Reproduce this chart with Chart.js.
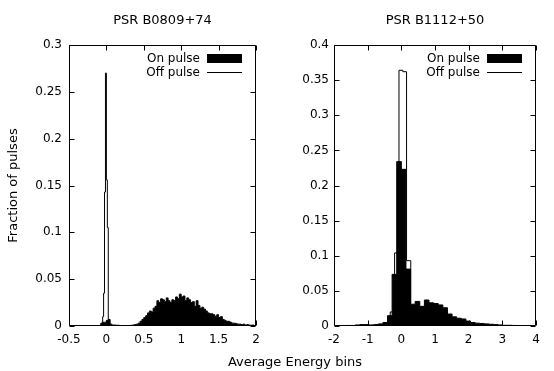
<!DOCTYPE html>
<html>
<head>
<meta charset="utf-8">
<script src="https://cdn.jsdelivr.net/npm/chart.js@4.4.0/dist/chart.umd.min.js"></script>
<style>
  html, body { margin:0; padding:0; background:#fff; }
  #wrap { position:relative; width:554px; height:371px; font-family:"DejaVu Sans", sans-serif; color:#000; }
  .panel { position:absolute; top:0; width:277px; height:371px; }
  .ttl { position:absolute; top:12px; width:200px; text-align:center; font-size:13px; line-height:16px; }
  #xTitle { position:absolute; left:0; width:590px; top:354px; text-align:center; font-size:13px; line-height:15px; }
</style>
</head>
<body>
<div id="wrap">
  <div class="panel" style="left:0"><canvas id="chartL" width="277" height="371"></canvas></div>
  <div class="panel" style="left:277px"><canvas id="chartR" width="277" height="371"></canvas></div>
  <div class="ttl" id="titleL" style="left:62.5px"></div>
  <div class="ttl" id="titleR" style="left:335px"></div>
  <div id="xTitle">Average Energy bins</div>
</div>
<script>
/* PSR B0809+74 / B1112+50 energy histograms */
const seriesNames = ['On pulse', 'Off pulse'];

// left panel: PSR B0809+74
const titleL = 'PSR B0809+74';
const xTicksL = [-0.5, 0, 0.5, 1, 1.5, 2];
const yTicksL = [0, 0.05, 0.1, 0.15, 0.2, 0.25, 0.3];
const onStartL = -0.1, onWidthL = 0.025;
const onValsL = [
  0.0005, 0.003, 0.004, 0.004, 0.006, 0.007, 0.002, 0.001, 0.001, 0.0008,
  0.0008, 0.0005, 0.0005, 0.0005, 0.0005, 0.0005,
  0.0005, 0.0008, 0.001, 0.0015, 0.002, 0.003, 0.005, 0.007, 0.009, 0.011,
  0.014, 0.016, 0.015, 0.019, 0.021, 0.027, 0.025, 0.029, 0.028, 0.026,
  0.030, 0.027, 0.025, 0.028, 0.027, 0.031, 0.029, 0.034, 0.031, 0.032,
  0.027, 0.030, 0.028, 0.025, 0.026, 0.021, 0.027, 0.022, 0.019, 0.020,
  0.018, 0.016, 0.014, 0.013, 0.013, 0.012, 0.010, 0.012, 0.009, 0.010,
  0.007, 0.006, 0.005, 0.005, 0.004, 0.003, 0.003, 0.0025, 0.002, 0.002,
  0.0015, 0.002, 0.001, 0.0015, 0.001, 0.0008, 0.001, 0.0005
];
const offEdgesL = [-0.075, -0.0625, -0.05, -0.0375, -0.025, -0.0125, 0, 0.0125, 0.025, 0.0375];
const offValsL = [0.001, 0.003, 0.01, 0.035, 0.143, 0.27, 0.156, 0.105, 0.003];

// right panel: PSR B1112+50
const titleR = 'PSR B1112+50';
const xTicksR = [-2, -1, 0, 1, 2, 3, 4];
const yTicksR = [0, 0.05, 0.1, 0.15, 0.2, 0.25, 0.3, 0.35, 0.4];
const onStartR = -1.918, onWidthR = 0.137;
const onValsR = [
  0.0003, 0.0005, 0.0008, 0.0008, 0.0015, 0.002, 0.002, 0.0015, 0.002, 0.003,
  0.005, 0.0147, 0.0735, 0.234, 0.223, 0.081, 0.031, 0.035, 0.028, 0.037,
  0.033, 0.032, 0.030, 0.026, 0.017, 0.013, 0.011, 0.010, 0.007, 0.005,
  0.004, 0.0035, 0.003, 0.0025, 0.002, 0.0015, 0.001, 0.001, 0.0008, 0.0005,
  0.0003, 0.0002, 0.0002
];
const offEdgesR = [-0.33, -0.2, -0.07, 0.045, 0.155, 0.28, 0.4];
const offValsR = [0.02, 0.104, 0.364, 0.362, 0.093, 0.01];

const FONT = '"DejaVu Sans", sans-serif';

document.getElementById('titleL').textContent = titleL;
document.getElementById('titleR').textContent = titleR;

// points at left bin edges, closed to zero on both ends
function hist(edges, vals) {
  const pts = [{ x: edges[0], y: 0 }];
  vals.forEach((v, i) => pts.push({ x: edges[i], y: v }));
  pts.push({ x: edges[vals.length], y: 0 });
  return pts;
}
function edgesFrom(start, w, n) {
  const e = [];
  for (let i = 0; i <= n; i++) e.push(+(start + i * w).toFixed(4));
  return e;
}

// gnuplot style box + inward ticks on all four sides
const frameTicks = {
  id: 'frameTicks',
  afterDatasetsDraw(chart) {
    const { ctx, chartArea: a, scales: { x, y } } = chart;
    const L = Math.round(a.left) + 0.5, R = Math.round(a.right) - 0.5;
    const T = Math.round(a.top) + 0.5, B = Math.round(a.bottom) - 0.5;
    const tl = 5;
    ctx.save();
    ctx.strokeStyle = '#000';
    ctx.lineWidth = 1;
    ctx.beginPath();
    ctx.rect(L, T, R - L, B - T);
    x.ticks.forEach(t => {
      const px = Math.round(x.getPixelForValue(t.value)) + 0.5;
      ctx.moveTo(px, B); ctx.lineTo(px, B - tl);
      ctx.moveTo(px, T); ctx.lineTo(px, T + tl);
    });
    y.ticks.forEach(t => {
      const py = Math.round(y.getPixelForValue(t.value)) + 0.5;
      ctx.moveTo(L, py); ctx.lineTo(L + tl, py);
      ctx.moveTo(R, py); ctx.lineTo(R - tl, py);
    });
    ctx.stroke();
    ctx.restore();
  }
};

// legend inside plot, text on the left of the sample
const keyBox = {
  id: 'keyBox',
  afterDraw(chart) {
    const { ctx, chartArea: a } = chart;
    const sx1 = a.right - 14, sx0 = sx1 - 35;
    ctx.save();
    ctx.font = '12px ' + FONT;
    ctx.fillStyle = '#000';
    ctx.textAlign = 'right';
    ctx.textBaseline = 'middle';
    ctx.fillText(seriesNames[0], sx0 - 7, a.top + 13.5);
    ctx.fillText(seriesNames[1], sx0 - 7, a.top + 27.5);
    ctx.fillRect(sx0, a.top + 9, 35, 9);
    ctx.strokeStyle = '#000';
    ctx.lineWidth = 1;
    ctx.beginPath();
    ctx.moveTo(sx0, a.top + 27.5);
    ctx.lineTo(sx1, a.top + 27.5);
    ctx.stroke();
    ctx.restore();
  }
};

function makeChart(id, o) {
  const onEdges = edgesFrom(o.onStart, o.onWidth, o.onVals.length);
  return new Chart(document.getElementById(id), {
    type: 'line',
    data: {
      datasets: [
        {
          label: seriesNames[0], data: hist(onEdges, o.onVals), stepped: 'before',
          borderColor: '#000', backgroundColor: '#000', borderWidth: 1, fill: 'origin',
          pointRadius: 0
        },
        {
          label: seriesNames[1], data: hist(o.offEdges, o.offVals), stepped: 'before',
          borderColor: '#000', borderWidth: 1, fill: false, pointRadius: 0
        }
      ]
    },
    options: {
      responsive: false, animation: false,
      layout: { padding: { left: 0, right: o.padRight, top: 45, bottom: 0 } },
      plugins: {
        legend: { display: false },
        tooltip: { enabled: false },
        title: { display: false }
      },
      scales: {
        x: {
          type: 'linear', min: o.xTicks[0], max: o.xTicks[o.xTicks.length - 1],
          afterBuildTicks: s => { s.ticks = o.xTicks.map(v => ({ value: v })); },
          afterFit: s => { s.height = 45; },
          grid: { display: false, drawTicks: false },
          border: { display: false },
          ticks: { color: '#000', padding: 7, maxRotation: 0, font: { family: FONT, size: 12 }, callback: v => String(v) }
        },
        y: {
          min: 0, max: o.yTicks[o.yTicks.length - 1],
          afterBuildTicks: s => { s.ticks = o.yTicks.map(v => ({ value: v })); },
          afterFit: s => { s.width = o.yWidth; },
          grid: { display: false, drawTicks: false },
          border: { display: false },
          ticks: { color: '#000', padding: o.yPad, font: { family: FONT, size: 12 }, callback: v => String(v) },
          title: {
            display: !!o.yTitle, text: o.yTitle, color: '#000',
            font: { family: FONT, size: 13 }, padding: { top: 6, bottom: 0 }
          }
        }
      }
    },
    plugins: [frameTicks, keyBox]
  });
}

makeChart('chartL', {
  xTicks: xTicksL, yTicks: yTicksL,
  onStart: onStartL, onWidth: onWidthL, onVals: onValsL,
  offEdges: offEdgesL, offVals: offValsL,
  yWidth: 69, padRight: 21, yPad: 7, yTitle: 'Fraction of pulses'
});
makeChart('chartR', {
  xTicks: xTicksR, yTicks: yTicksR,
  onStart: onStartR, onWidth: onWidthR, onVals: onValsR,
  offEdges: offEdgesR, offVals: offValsR,
  yWidth: 57, padRight: 18, yPad: 5, yTitle: ''
});
</script>
</body>
</html>
